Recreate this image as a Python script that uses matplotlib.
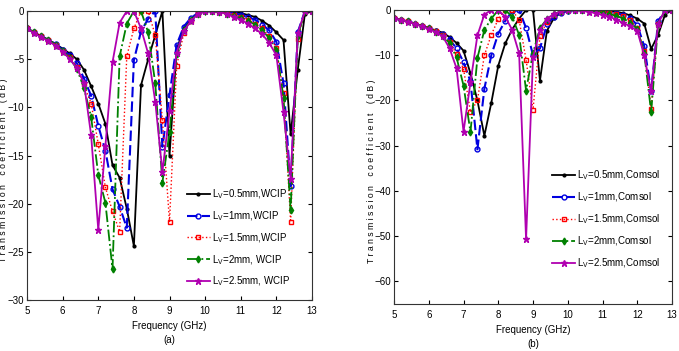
import matplotlib
matplotlib.use("Agg")
import matplotlib.pyplot as plt
from matplotlib import font_manager

# the original uses a narrow Arial-like face; use a narrow one if the system has it
installed = {f.name for f in font_manager.fontManager.ttflist}
narrow = "Liberation Sans Narrow" if "Liberation Sans Narrow" in installed else "Liberation Sans"
plt.rcParams["font.family"] = [narrow, "DejaVu Sans"]
plt.rcParams["mathtext.default"] = "regular"
plt.rcParams["mathtext.fontset"] = "custom"
plt.rcParams["mathtext.rm"] = narrow

# frequency grid (GHz)
freq = [5.0, 5.2, 5.4, 5.6, 5.8, 6.0, 6.2, 6.4, 6.6, 6.8,
        7.0, 7.2, 7.4, 7.6, 7.8, 8.0, 8.2, 8.4, 8.6, 8.8,
        9.0, 9.2, 9.4, 9.6, 9.8, 10.0, 10.2, 10.4, 10.6, 10.8,
        11.0, 11.2, 11.4, 11.6, 11.8, 12.0, 12.2, 12.4, 12.6, 12.8, 13.0]

# (a) WCIP results, dB
wcip_05 = [-1.8, -2.2, -2.6, -3.0, -3.4, -3.9, -4.4, -5.0, -6.1, -7.8,
           -9.6, -11.7, -16.0, -17.3, -20.5, -24.4, -7.7, -5.0, -2.5, 0.0,
           -15.0, -4.0, -1.8, -0.8, -0.3, 0.0, 0.0, 0.0, 0.0, -0.1,
           -0.2, -0.4, -0.6, -1.0, -1.5, -2.2, -3.0, -12.8, -6.1, -0.3, 0.0]
wcip_10 = [-1.8, -2.2, -2.6, -3.0, -3.4, -4.0, -4.6, -5.4, -7.0, -8.8,
           -11.9, -14.5, -18.5, -20.3, -22.5, -5.1, -2.1, -0.8, 0.0, -14.1,
           -8.7, -3.5, -1.6, -0.7, -0.2, 0.0, 0.0, 0.0, -0.1, -0.2,
           -0.4, -0.6, -0.9, -1.4, -2.0, -3.2, -7.5, -18.2, -2.2, 0.0, 0.0]
wcip_15 = [-1.8, -2.2, -2.6, -3.0, -3.5, -4.1, -4.8, -5.8, -7.6, -9.6,
           -13.8, -18.3, -20.8, -22.9, -4.7, -1.8, 0.0, 0.0, -2.5, -11.3,
           -21.9, -5.7, -2.3, -1.0, -0.3, 0.0, 0.0, -0.1, -0.2, -0.4,
           -0.6, -0.9, -1.3, -1.8, -2.6, -3.8, -8.5, -21.9, -2.9, 0.0, 0.0]
wcip_20 = [-1.8, -2.2, -2.6, -3.0, -3.5, -4.1, -4.9, -6.0, -8.0, -11.0,
           -17.0, -19.9, -26.8, -4.7, -1.3, 0.0, 0.0, -2.2, -7.5, -17.8,
           -12.6, -4.5, -2.0, -0.9, -0.3, 0.0, 0.0, -0.1, -0.3, -0.5,
           -0.7, -1.0, -1.4, -2.0, -2.8, -4.0, -9.0, -20.7, -2.6, 0.0, 0.0]
wcip_25 = [-1.8, -2.3, -2.7, -3.1, -3.6, -4.2, -5.0, -5.9, -7.5, -12.9,
           -22.7, -14.0, -5.3, -1.2, 0.0, 0.0, -1.8, -4.4, -9.4, -16.7,
           -10.4, -4.3, -2.1, -1.0, -0.3, 0.0, 0.0, -0.1, -0.3, -0.6,
           -0.9, -1.3, -1.8, -2.4, -3.3, -4.6, -10.5, -17.4, -2.3, 0.0, 0.0]

# (b) Comsol results, dB
comsol_05 = [-1.85, -2.2, -2.5, -3.0, -3.5, -4.0, -4.5, -5.0, -6.0, -7.3,
             -9.0, -14.0, -20.0, -27.8, -20.5, -12.3, -7.4, -4.3, -1.9, 0.0,
             0.0, -15.6, -4.6, -1.8, -0.6, -0.1, 0.0, 0.0, 0.0, 0.0,
             -0.1, -0.2, -0.4, -0.7, -1.2, -1.9, -3.0, -8.6, -5.5, -1.0, 0.0]
comsol_10 = [-1.85, -2.2, -2.5, -3.0, -3.5, -4.0, -4.6, -5.3, -6.5, -8.5,
             -11.5, -15.8, -30.8, -17.4, -10.0, -5.2, -2.4, -0.3, 0.0, -4.0,
             -10.0, -8.5, -3.2, -1.5, -0.6, -0.2, 0.0, 0.0, 0.0, -0.1,
             -0.2, -0.4, -0.7, -1.1, -1.8, -3.3, -8.0, -18.0, -2.5, 0.0, 0.0]
comsol_15 = [-1.85, -2.2, -2.5, -3.0, -3.5, -4.0, -4.7, -5.5, -7.0, -9.8,
             -13.0, -22.6, -20.0, -10.0, -5.5, -2.0, 0.0, 0.0, -2.2, -11.0,
             -22.0, -5.8, -2.6, -1.2, -0.5, -0.1, 0.0, 0.0, -0.1, -0.2,
             -0.4, -0.6, -0.9, -1.4, -2.2, -4.0, -9.0, -21.8, -3.0, 0.0, 0.0]
comsol_20 = [-1.85, -2.2, -2.5, -3.0, -3.5, -4.0, -4.8, -5.7, -7.3, -10.5,
             -16.7, -27.0, -10.6, -4.4, -1.9, 0.0, 0.0, -1.5, -5.5, -17.8,
             -9.5, -4.0, -2.0, -0.9, -0.3, 0.0, 0.0, -0.1, -0.2, -0.4,
             -0.6, -0.9, -1.3, -1.9, -2.8, -4.2, -9.5, -22.6, -3.2, 0.0, 0.0]
comsol_25 = [-1.85, -2.2, -2.6, -3.1, -3.6, -4.2, -4.9, -5.8, -8.5, -12.9,
             -26.9, -16.0, -5.6, -1.0, 0.0, 0.0, -1.5, -4.4, -9.6, -50.7,
             -10.4, -4.5, -1.9, -0.9, -0.3, 0.0, 0.0, -0.1, -0.4, -0.7,
             -1.1, -1.5, -2.1, -2.9, -3.6, -4.6, -10.0, -18.0, -3.0, 0.0, 0.0]

lengths = ["0.5", "1", "1.5", "2", "2.5"]
wcip_labels = [r"L$_V$=0.5mm,WCIP", r"L$_V$=1mm,WCIP", r"L$_V$=1.5mm,WCIP",
               r"L$_V$=2mm, WCIP", r"L$_V$=2.5mm, WCIP"]
comsol_labels = [r"L$_V$=%smm,Comsol" % s for s in lengths]

styles = [
    dict(color="black", ls="-", marker=".", ms=4, lw=1.3),
    dict(color="#0000e0", ls=(0, (5, 2)), marker="o", ms=3.5, mfc="none", mew=1.0, lw=1.5),
    dict(color="red", ls=":", marker="s", ms=3.2, mfc="none", mew=1.0, lw=1.0),
    dict(color="#008000", ls="-.", marker="d", ms=3.5, lw=1.3),
    dict(color="#b000b0", ls="-", marker="*", ms=5, lw=1.3),
]

ylab = "T r a n s m i s s i o n    c o e f f i c i e n t    ( d B )"

fig = plt.figure(figsize=(6.79, 3.51), dpi=100)
axa = fig.add_axes([0.0398, 0.1453, 0.4197, 0.823])
axb = fig.add_axes([0.5803, 0.1339, 0.4094, 0.8376])

for ax, series, labels in [
    (axa, [wcip_05, wcip_10, wcip_15, wcip_20, wcip_25], wcip_labels),
    (axb, [comsol_05, comsol_10, comsol_15, comsol_20, comsol_25], comsol_labels),
]:
    for y, lab, st in zip(series, labels, styles):
        ax.plot(freq, y, label=lab, **st)
    ax.set_xlim(5, 13)
    ax.set_xticks(range(5, 14))
    ax.tick_params(direction="in", top=True, right=True, labelsize=7, length=3)
    ax.tick_params(axis="y", pad=2)
    ax.tick_params(axis="x", pad=4)
    for sp in ax.spines.values():
        sp.set_linewidth(0.8)
        sp.set_color("#333333")
    ax.set_ylabel(ylab, fontsize=6.2, family=["Liberation Sans", "DejaVu Sans"])

axa.set_ylim(-30, 0)
axa.set_yticks(range(-30, 1, 5))
axa.set_xlabel("Frequency (GHz)\n(a)", fontsize=7, linespacing=1.5, labelpad=4)
axa.yaxis.set_label_coords(-0.068, 0.45)
axb.set_ylim(-65, 0)
axb.set_yticks(range(-60, 1, 10))
axb.set_xlabel("Frequency (GHz)\n(b)", fontsize=7, linespacing=1.5, labelpad=4)
axb.yaxis.set_label_coords(-0.065, 0.452)

axa.legend(loc="upper left", bbox_to_anchor=(0.56, 0.39), frameon=False, fontsize=7,
           handlelength=2.4, handletextpad=0.2, labelspacing=0.85, borderpad=0, borderaxespad=0)
axb.legend(loc="upper left", bbox_to_anchor=(0.568, 0.46), frameon=False, fontsize=7,
           handlelength=2.4, handletextpad=0.2, labelspacing=0.85, borderpad=0, borderaxespad=0)

fig.savefig("out.png", dpi=100)
